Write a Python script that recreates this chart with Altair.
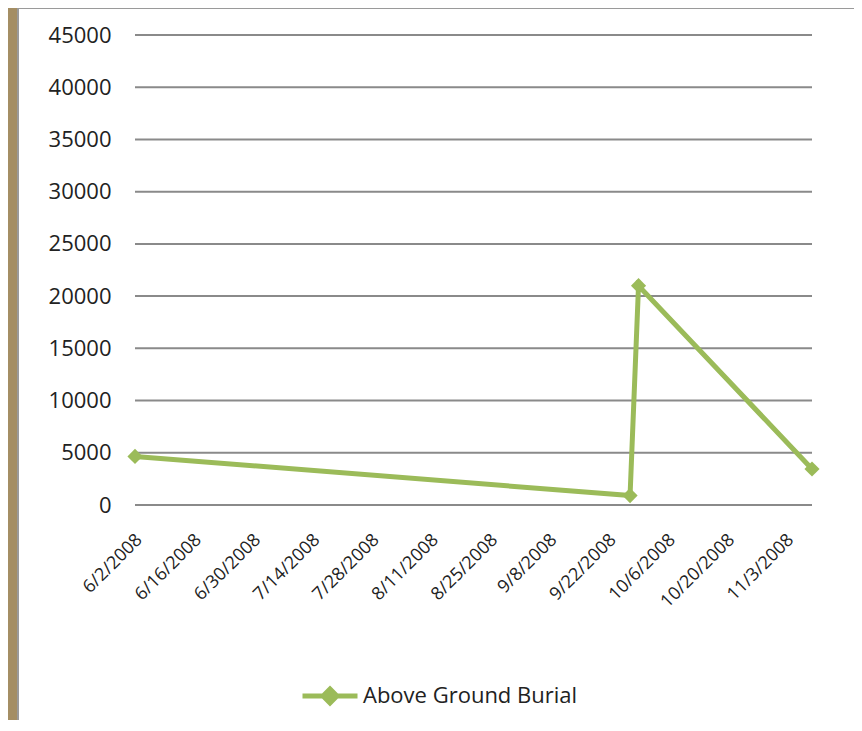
import altair as alt
import pandas as pd

# Data
dates = ["2008-06-02", "2008-09-27", "2008-09-29", "2008-11-09"]
values = [4650, 900, 21000, 3450]
series_name = "Above Ground Burial"

y_ticks = [0, 5000, 10000, 15000, 20000, 25000, 30000, 35000, 40000, 45000]
x_tick_dates = [(2008, 6, 2), (2008, 6, 16), (2008, 6, 30), (2008, 7, 14), (2008, 7, 28),
                (2008, 8, 11), (2008, 8, 25), (2008, 9, 8), (2008, 9, 22), (2008, 10, 6),
                (2008, 10, 20), (2008, 11, 3)]

df = pd.DataFrame({
    "date": [d + "T00:00:00" for d in dates],
    "value": values,
    "series": [series_name] * len(dates),
})
grid_df = pd.DataFrame({"value": y_ticks})

GREEN = "#9bbb59"
FONT = "Open Sans"
TEXT = "#222222"

x_vals = [alt.DateTime(year=y, month=m, date=d) for (y, m, d) in x_tick_dates]
x_scale = alt.Scale(domain=[alt.DateTime(year=2008, month=6, date=2),
                            alt.DateTime(year=2008, month=11, date=9)], nice=False)
y_scale = alt.Scale(domain=[0, 45000], nice=False)

y_axis = alt.Axis(values=y_ticks, format="d", ticks=False, domain=False,
                  grid=False, labelPadding=24, labelFont=FONT,
                  labelFontSize=22, labelColor=TEXT, zindex=1, title=None)
x_axis = alt.Axis(values=x_vals, format="%-m/%-d/%Y", labelAngle=-45,
                  labelAlign="right", labelBaseline="middle",
                  labelPadding=32, labelOffset=4, ticks=False, domain=False, grid=False,
                  labelFont=FONT, labelFontSize=18, labelColor=TEXT,
                  labelOverlap=False, zindex=1, title=None)

box = alt.Chart(grid_df).mark_rect(fill="white", stroke="#9a9a9a", strokeWidth=2).encode(
    x=alt.value(-117), x2=alt.value(724), y=alt.value(-27), y2=alt.value(720)
).transform_filter("datum.value == 0")

grid = alt.Chart(grid_df).mark_rule(color="#8a8a8a", strokeWidth=2).encode(
    y=alt.Y("value:Q", scale=y_scale, axis=y_axis)
)

line = alt.Chart(df).mark_line(strokeWidth=5).encode(
    x=alt.X("date:T", scale=x_scale, axis=x_axis),
    y=alt.Y("value:Q", scale=y_scale, axis=y_axis),
    color=alt.Color("series:N", scale=alt.Scale(range=[GREEN]),
                    legend=alt.Legend(title=None, orient="none", legendX=165, legendY=631,
                                      symbolType="M-1,0L1,0M0,-0.25L0.25,0L0,0.25L-0.25,0Z",
                                      symbolSize=3025, symbolStrokeWidth=5,
                                      symbolFillColor=GREEN, symbolStrokeColor=GREEN,
                                      labelFont=FONT, labelFontSize=22, labelLimit=0,
                                      labelColor=TEXT, labelOffset=3)),
)

points = alt.Chart(df).mark_point(shape="diamond", filled=True, size=230, opacity=1).encode(
    x=alt.X("date:T", scale=x_scale, axis=x_axis),
    y=alt.Y("value:Q", scale=y_scale, axis=y_axis),
    color=alt.Color("series:N", legend=None)
)

chart = alt.layer(box, grid, line, points).properties(
    width=677, height=470,
    padding={"left": 127, "top": 27, "right": 42, "bottom": 215},
    autosize=alt.AutoSizeParams(type="none"),
    background="#a48e64",
).configure_view(stroke=None)

chart.save("out.html", embed_options={"renderer": "svg", "actions": False})
